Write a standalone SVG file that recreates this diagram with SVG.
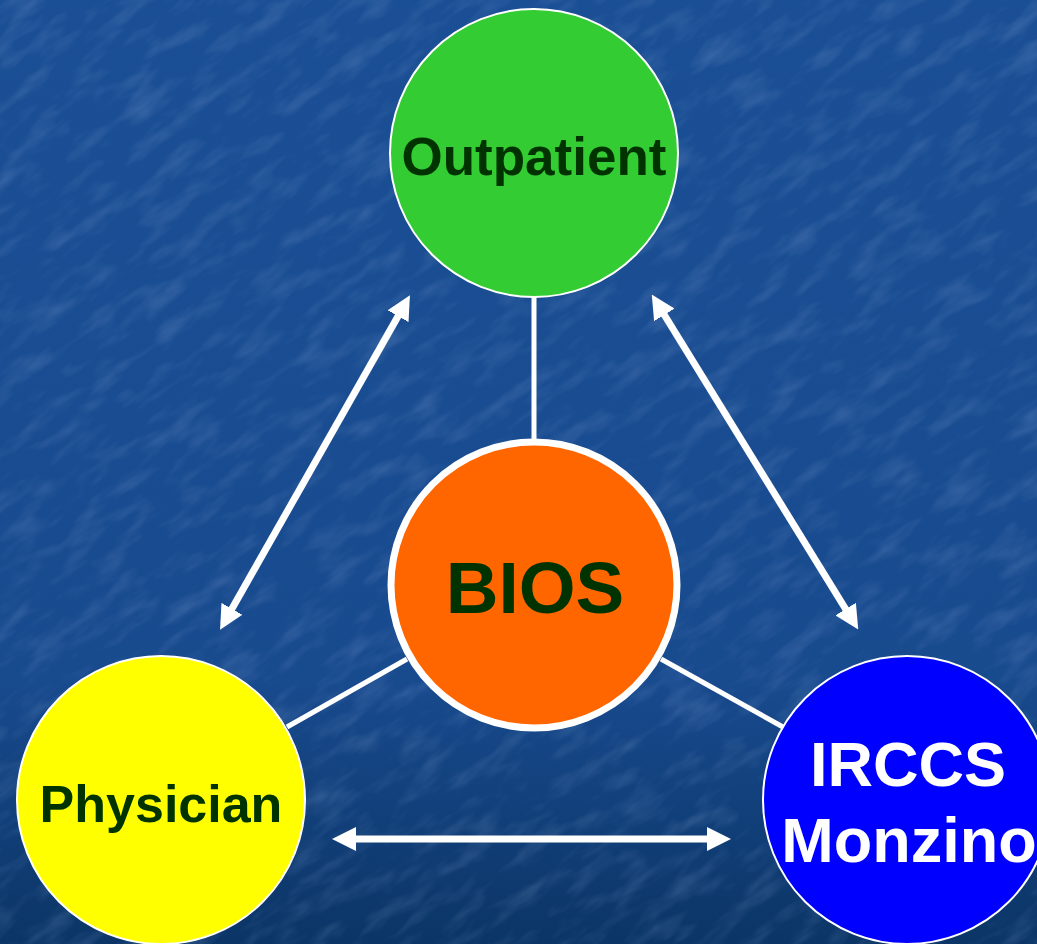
<svg xmlns="http://www.w3.org/2000/svg" width="1037" height="944" viewBox="0 0 1037 944">
  <defs>
    <linearGradient id="bg" x1="0" y1="0" x2="0" y2="1">
      <stop offset="0" stop-color="#1b4f95"/>
      <stop offset="0.72" stop-color="#184a8e"/>
      <stop offset="1" stop-color="#0b3566"/>
    </linearGradient>
    <filter id="tex" x="0" y="0" width="100%" height="100%">
      <feTurbulence type="fractalNoise" baseFrequency="0.02 0.06" numOctaves="3" seed="7" result="n"/>
      <feColorMatrix in="n" type="matrix" values="0 0 0 0 0.45  0 0 0 0 0.6  0 0 0 0 0.9  0 0 0 1.2 -0.55"/>
    </filter>
    <marker id="ah" viewBox="0 0 24 24" refX="14" refY="12" markerWidth="24" markerHeight="24" orient="auto-start-reverse" markerUnits="userSpaceOnUse">
      <path d="M0,0 L24,12 L0,24 Z" fill="#ffffff"/>
    </marker>
    <style>
      .lbl { font-family: "Liberation Sans", Arial, sans-serif; font-weight: bold; text-anchor: middle; }
      .dark { fill: #003300; }
      .white { fill: #ffffff; }
      .link { stroke: #ffffff; stroke-width: 5; fill: none; }
      .arrow { stroke: #ffffff; stroke-width: 7; fill: none; }
    </style>
  </defs>
  <rect width="1037" height="944" fill="url(#bg)"/>
  <g transform="rotate(-35 518 472)">
    <rect x="-400" y="-400" width="1840" height="1740" filter="url(#tex)" opacity="0.3"/>
  </g>

  <g id="connectors">
    <line class="link" x1="534" y1="297" x2="534" y2="440"/>
    <line class="link" x1="407" y1="659" x2="287" y2="727"/>
    <line class="link" x1="661" y1="659" x2="783" y2="727"/>
    <line class="arrow" x1="405" y1="304" x2="225" y2="621" marker-start="url(#ah)" marker-end="url(#ah)"/>
    <line class="arrow" x1="657" y1="303" x2="853" y2="621" marker-start="url(#ah)" marker-end="url(#ah)"/>
    <line class="arrow" x1="342" y1="839" x2="721" y2="839" stroke-width="8" marker-start="url(#ah)" marker-end="url(#ah)"/>
  </g>

  <g id="outpatient">
    <circle cx="534" cy="153" r="144" fill="#33cc33" stroke="#ffffff" stroke-width="2"/>
    <text class="lbl dark" x="534" y="175" font-size="53">Outpatient</text>
  </g>

  <g id="bios">
    <circle cx="534" cy="585" r="143" fill="#ff6600" stroke="#ffffff" stroke-width="7"/>
    <text class="lbl dark" x="535" y="613" font-size="73">BIOS</text>
  </g>

  <g id="physician">
    <circle cx="161" cy="800" r="144" fill="#ffff00" stroke="#ffffff" stroke-width="2"/>
    <text class="lbl dark" x="161" y="822" font-size="52">Physician</text>
  </g>

  <g id="irccs">
    <circle cx="907" cy="800" r="144" fill="#0000ff" stroke="#ffffff" stroke-width="2"/>
    <text class="lbl white" x="908" y="786" font-size="63">IRCCS</text>
    <text class="lbl white" x="909" y="862" font-size="63">Monzino</text>
  </g>
</svg>
